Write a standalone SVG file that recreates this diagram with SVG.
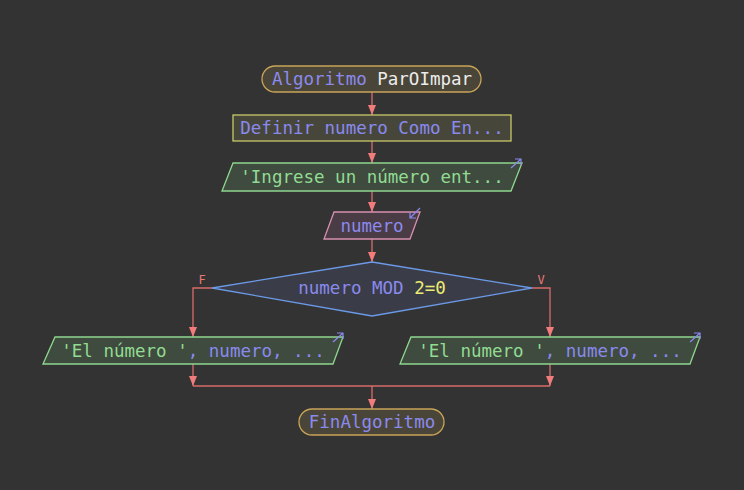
<svg xmlns="http://www.w3.org/2000/svg" width="744" height="490" viewBox="0 0 744 490">
<defs>
<style>
.t{font-family:"DejaVu Sans Mono","Liberation Mono",monospace;font-size:17.5px;text-anchor:middle}
.b{fill:#8a8aee}.g{fill:#92dc92}.w{fill:#ececec}.y{fill:#ecec72}
.c{fill:none;stroke:#d86c6c;stroke-width:1.3}
.lbl{font-family:"DejaVu Sans Mono","Liberation Mono",monospace;font-size:12px;fill:#e87878;text-anchor:middle}
.ic{fill:none;stroke:#8a8aee;stroke-width:1.2}
</style>
<marker id="ah" viewBox="0 0 10 8" refX="10" refY="4" markerWidth="10" markerHeight="8" markerUnits="userSpaceOnUse" orient="auto">
<path d="M0,0 L10,4 L0,8 Z" fill="#f07c7c"/>
</marker>
</defs>
<rect width="744" height="490" fill="#333333"/>
<g id="connectors">
<line class="c" x1="372" y1="92" x2="372" y2="115" marker-end="url(#ah)"/>
<line class="c" x1="372" y1="141" x2="372" y2="163" marker-end="url(#ah)"/>
<line class="c" x1="372" y1="191" x2="372" y2="212" marker-end="url(#ah)"/>
<line class="c" x1="372" y1="239" x2="372" y2="262" marker-end="url(#ah)"/>
<polyline class="c" points="212,288 193,288 193,337" marker-end="url(#ah)"/>
<polyline class="c" points="532,288 550,288 550,337" marker-end="url(#ah)"/>
<line class="c" x1="193" y1="364" x2="193" y2="386" marker-end="url(#ah)"/>
<line class="c" x1="550" y1="364" x2="550" y2="386" marker-end="url(#ah)"/>
<line class="c" x1="193" y1="386" x2="550" y2="386"/>
<line class="c" x1="372" y1="386" x2="372" y2="409" marker-end="url(#ah)"/>
<text class="lbl" x="202" y="284">F</text>
<text class="lbl" x="541" y="284">V</text>
</g>
<g id="start">
<rect x="262" y="66" width="219" height="26" rx="13" fill="#4a4539" stroke="#c9a458" stroke-width="1.3"/>
<text class="t" x="372" y="85"><tspan class="b">Algoritmo </tspan><tspan class="w">ParOImpar</tspan></text>
</g>
<g id="define">
<rect x="233" y="115" width="278" height="26" fill="#47463b" stroke="#c8c86a" stroke-width="1.3"/>
<text class="t b" x="372" y="134">Definir numero Como En...</text>
</g>
<g id="output1">
<polygon points="233,163 522,163 511,191 222,191" fill="#3f4b3f" stroke="#8fd88f" stroke-width="1.3"/>
<text class="t g" x="372" y="183">'Ingrese un número ent...</text>
<path class="ic" d="M511,168 L521,159 M515,159 L521,159 L521,165"/>
</g>
<g id="input">
<polygon points="334,212 420,212 410,239 324,239" fill="#4a3c45" stroke="#d890b0" stroke-width="1.3"/>
<text class="t b" x="372" y="232">numero</text>
<path class="ic" d="M420,208 L410,218 M410,212 L410,218 L416,218"/>
</g>
<g id="decision">
<polygon points="372,262 532,288 372,316 212,288" fill="#3a3d48" stroke="#6c9ae8" stroke-width="1.3"/>
<text class="t" x="372" y="294"><tspan class="b">numero MOD </tspan><tspan class="y">2=0</tspan></text>
</g>
<g id="outputF">
<polygon points="55,337 343,337 333,364 43,364" fill="#3f4b3f" stroke="#8fd88f" stroke-width="1.3"/>
<text class="t" x="193" y="357"><tspan class="g">'El número '</tspan><tspan class="b">, numero, ...</tspan></text>
<path class="ic" d="M333,342 L343,333 M337,333 L343,333 L343,339"/>
</g>
<g id="outputV">
<polygon points="411,337 700,337 690,364 400,364" fill="#3f4b3f" stroke="#8fd88f" stroke-width="1.3"/>
<text class="t" x="550" y="357"><tspan class="g">'El número '</tspan><tspan class="b">, numero, ...</tspan></text>
<path class="ic" d="M690,342 L700,333 M694,333 L700,333 L700,339"/>
</g>
<g id="end">
<rect x="299" y="409" width="145" height="26" rx="13" fill="#4a4539" stroke="#c9a458" stroke-width="1.3"/>
<text class="t b" x="372" y="428">FinAlgoritmo</text>
</g>
</svg>
